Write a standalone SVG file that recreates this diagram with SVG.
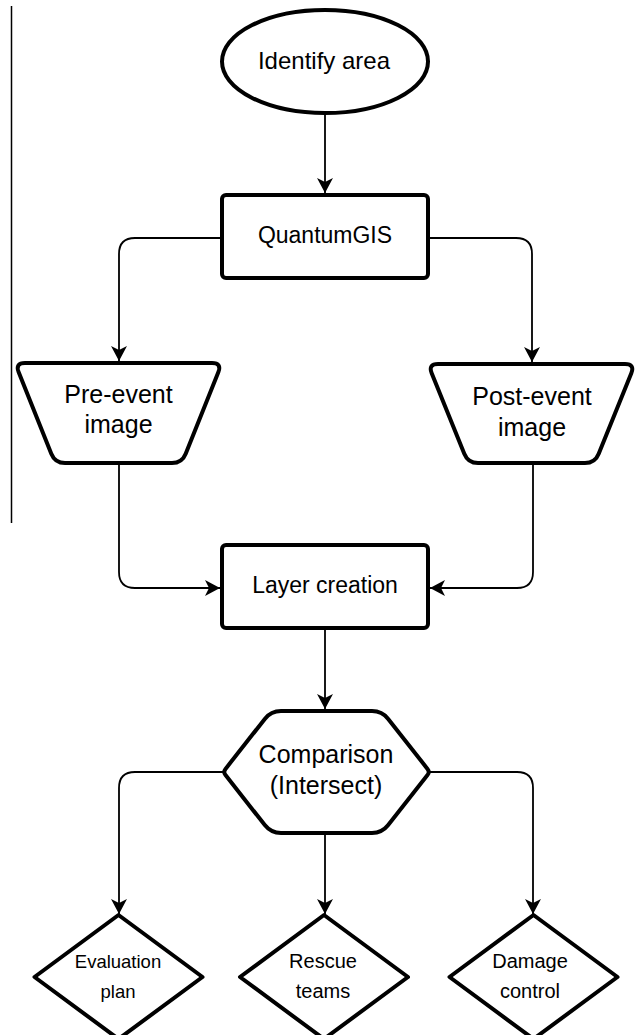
<svg xmlns="http://www.w3.org/2000/svg" width="638" height="1035" viewBox="0 0 638 1035">
<style>
.shape{fill:#fff;stroke:#000;stroke-width:4;stroke-linejoin:round}
.conn{fill:none;stroke:#000;stroke-width:1.8}
.lbl{font-family:"Liberation Sans",Arial,sans-serif;fill:#000;text-anchor:middle}
</style>
<defs>
<marker id="arr" markerUnits="userSpaceOnUse" markerWidth="16" markerHeight="16" refX="15" refY="8" orient="auto">
<path d="M0,0 L15,8 L0,16 L4,8 Z" fill="#000"/>
</marker>
</defs>
<rect width="638" height="1035" fill="#fff"/>
<line x1="11.5" y1="6" x2="11.5" y2="523" stroke="#000" stroke-width="1.5"/>
<g id="connectors">
<path class="conn" d="M325,115 L325,193" marker-end="url(#arr)"/>
<path class="conn" d="M222,238 L135,238 Q119,238 119,254 L119,361" marker-end="url(#arr)"/>
<path class="conn" d="M428,238 L516,238 Q532,238 532,254 L532,362" marker-end="url(#arr)"/>
<path class="conn" d="M119,463 L119,572 Q119,588 135,588 L220,588" marker-end="url(#arr)"/>
<path class="conn" d="M533,463 L533,572 Q533,588 517,588 L430,588" marker-end="url(#arr)"/>
<path class="conn" d="M325,630 L325,709" marker-end="url(#arr)"/>
<path class="conn" d="M223,772 L135,772 Q119,772 119,788 L119,914" marker-end="url(#arr)"/>
<path class="conn" d="M430,772 L517,772 Q533,772 533,788 L533,914" marker-end="url(#arr)"/>
<path class="conn" d="M325,835 L325,914" marker-end="url(#arr)"/>
</g>
<g id="identify">
<ellipse class="shape" cx="325" cy="61.5" rx="103" ry="51.5"/>
<text class="lbl" x="324" y="69" font-size="24">Identify area</text>
</g>
<g id="quantumgis">
<rect class="shape" x="222" y="195" width="206" height="83" rx="4"/>
<text class="lbl" x="325" y="243" font-size="23">QuantumGIS</text>
</g>
<g id="preevent">
<path class="shape" d="M25,363 L212,363 Q222,363 218.3,372.3 L185.7,453.7 Q182,463 172,463 L65,463 Q55,463 51.3,453.7 L18.7,372.3 Q15,363 25,363 Z"/>
<text class="lbl" x="118.5" y="403" font-size="25">Pre-event</text>
<text class="lbl" x="118.5" y="433" font-size="25">image</text>
</g>
<g id="postevent">
<path class="shape" d="M438,364 L625,364 Q635,364 631.3,373.3 L598.7,453.7 Q595,463 585,463 L478,463 Q468,463 464.3,453.7 L431.7,373.3 Q428,364 438,364 Z"/>
<text class="lbl" x="532" y="405" font-size="25">Post-event</text>
<text class="lbl" x="532" y="436" font-size="25">image</text>
</g>
<g id="layercreation">
<rect class="shape" x="222" y="545" width="206" height="83" rx="4"/>
<text class="lbl" x="325" y="593" font-size="23">Layer creation</text>
</g>
<g id="comparison">
<path class="shape" d="M281,711 L372,711 Q382,711 388.2,718.9 L427.5,768.9 Q430,772 427.5,775.1 L388.2,825.1 Q382,833 372,833 L281,833 Q271,833 264.8,825.1 L225.5,775.1 Q223,772 225.5,768.9 L264.8,718.9 Q271,711 281,711 Z"/>
<text class="lbl" x="326" y="763" font-size="25">Comparison</text>
<text class="lbl" x="326" y="794" font-size="25">(Intersect)</text>
</g>
<g id="evaluation">
<path class="shape" d="M118.5,915 L202.5,977 L118.5,1039 L34.5,977 Z"/>
<text class="lbl" x="118" y="968" font-size="18.5">Evaluation</text>
<text class="lbl" x="118" y="998" font-size="18.5">plan</text>
</g>
<g id="rescue">
<path class="shape" d="M324,915 L408,977 L324,1039 L240,977 Z"/>
<text class="lbl" x="323" y="968" font-size="20">Rescue</text>
<text class="lbl" x="323" y="998" font-size="20">teams</text>
</g>
<g id="damage">
<path class="shape" d="M533.5,915 L617.5,977 L533.5,1039 L449.5,977 Z"/>
<text class="lbl" x="530" y="968" font-size="20">Damage</text>
<text class="lbl" x="530" y="998" font-size="20">control</text>
</g>
</svg>
